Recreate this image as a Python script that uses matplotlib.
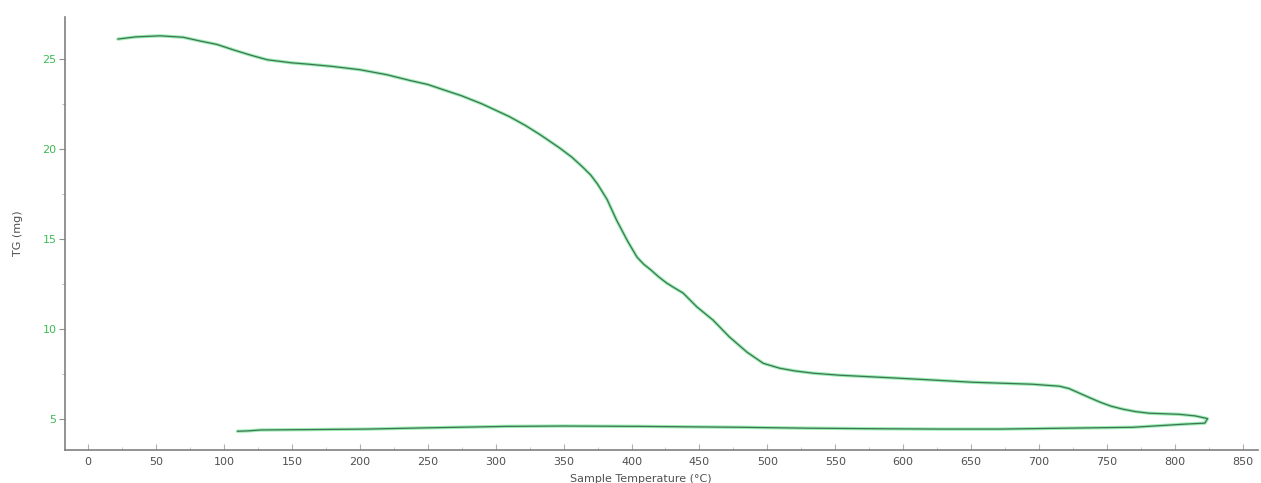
import matplotlib
matplotlib.use("Agg")
import matplotlib.pyplot as plt
from matplotlib.ticker import MultipleLocator

# Heating branch (temperature °C, TG mg)
heat_T = [22, 35, 53, 70, 82, 95, 107, 120, 132, 150, 163, 180, 200, 220, 237,
          250, 261, 275, 290, 310, 322, 333, 347, 356, 364, 370, 375, 382, 389,
          397, 404, 409, 414, 420, 426, 432, 438, 448, 460, 472, 485, 497, 509,
          520, 534, 553, 590, 620, 651, 671, 695, 715, 722, 728, 737, 745, 753,
          762, 771, 781, 792, 803, 815, 824]
heat_TG = [26.1, 26.22, 26.28, 26.2, 26.0, 25.8, 25.5, 25.2, 24.95, 24.78, 24.7,
           24.58, 24.4, 24.12, 23.8, 23.58, 23.3, 22.95, 22.5, 21.8, 21.3, 20.78,
           20.06, 19.55, 19.0, 18.55, 18.05, 17.2, 16.05, 14.9, 14.0, 13.6, 13.3,
           12.9, 12.55, 12.27, 12.0, 11.24, 10.5, 9.57, 8.72, 8.1, 7.83, 7.68,
           7.55, 7.44, 7.3, 7.18, 7.05, 7.0, 6.94, 6.83, 6.7, 6.5, 6.2, 5.94,
           5.72, 5.55, 5.42, 5.33, 5.3, 5.27, 5.18, 5.03]

# Cooling / return branch
cool_T = [824, 822, 806, 769, 720, 671, 627, 580, 529, 480, 406, 350, 308, 250,
          205, 160, 127, 118, 110]
cool_TG = [5.03, 4.78, 4.72, 4.55, 4.5, 4.45, 4.45, 4.47, 4.5, 4.55, 4.6, 4.62,
           4.6, 4.52, 4.45, 4.42, 4.4, 4.35, 4.33]

x_ticks = [0, 50, 100, 150, 200, 250, 300, 350, 400, 450, 500, 550, 600, 650,
           700, 750, 800, 850]
y_ticks = [5, 10, 15, 20, 25]

fig = plt.figure(figsize=(12.61, 4.83), dpi=100)
ax = fig.add_axes([0.0515, 0.068, 0.946, 0.897])

T_all = heat_T + cool_T
TG_all = heat_TG + cool_TG
ax.plot(T_all, TG_all, color="#9aeeb0", lw=2.4, solid_joinstyle="round",
        solid_capstyle="round", zorder=2)
ax.plot(T_all, TG_all, color="#3f7458", lw=0.9, solid_joinstyle="round",
        zorder=3)

ax.set_xlim(-17, 861)
ax.set_ylim(3.28, 27.33)
ax.set_xticks(x_ticks)
ax.set_yticks(y_ticks)
ax.xaxis.set_minor_locator(MultipleLocator(25))
ax.yaxis.set_minor_locator(MultipleLocator(2.5))

for s in ["top", "right"]:
    ax.spines[s].set_visible(False)
for s in ["left", "bottom"]:
    ax.spines[s].set_color("#808080")
    ax.spines[s].set_linewidth(1.2)

ax.tick_params(axis="y", which="major", direction="out", length=4, width=0.8,
               colors="#909090", labelcolor="#3dbb55", labelsize=8, pad=2)
ax.tick_params(axis="y", which="minor", direction="out", length=2, width=0.6,
               colors="#b0b0b0")
ax.tick_params(axis="x", which="major", direction="in", length=4, width=0.8,
               colors="#b0b0b0", labelcolor="#505050", labelsize=8, pad=5)
ax.tick_params(axis="x", which="minor", direction="in", length=2, width=0.6,
               colors="#c0c0c0")

ax.set_xlabel("Sample Temperature (°C)", fontsize=8, color="#505050", labelpad=-1)
ax.xaxis.set_label_coords(0.483, -0.055)
ax.set_ylabel("TG (mg)", fontsize=8, color="#505050", labelpad=14)

fig.savefig("out.png", dpi=100, facecolor="white")
